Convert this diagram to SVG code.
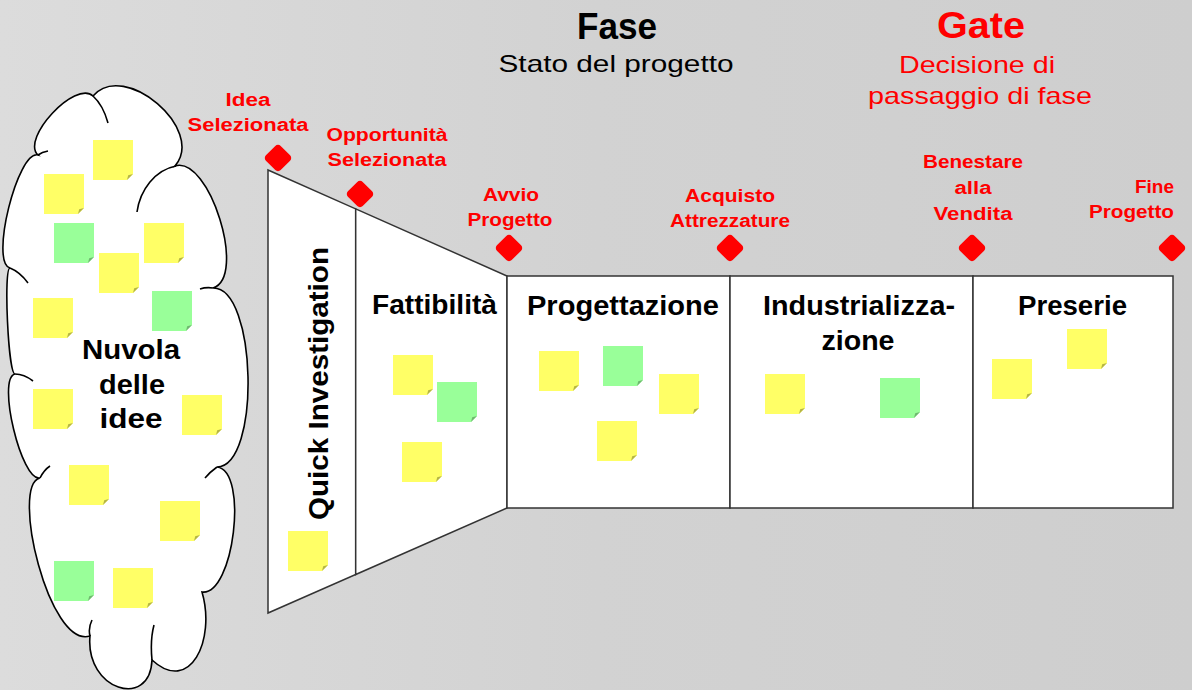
<svg xmlns="http://www.w3.org/2000/svg" xmlns:xlink="http://www.w3.org/1999/xlink" width="1192" height="690" viewBox="0 0 1192 690">
<style>
text{font-family:"Liberation Sans",Arial,sans-serif}
.gl{font-weight:bold;font-size:18px;fill:#ff0000;text-anchor:middle}
.ph{font-weight:bold;font-size:27px;fill:#000;text-anchor:middle}
.hb{font-weight:bold;font-size:36px;text-anchor:middle}
.hr{font-size:24px;text-anchor:middle}
.box{fill:#fff;stroke:#333;stroke-width:1.5}
.ln{fill:none;stroke:#333;stroke-width:1.5}
.cl{fill:#fff;stroke:#000;stroke-width:1.6}
.ct{fill:none;stroke:#000;stroke-width:1.6}
.dia{fill:#ff0000}
</style>
<defs>
<linearGradient id="bg" x1="0" y1="0" x2="1" y2="0">
<stop offset="0" stop-color="#dcdcdc"/>
<stop offset="0.5" stop-color="#d2d2d2"/>
<stop offset="1" stop-color="#cecece"/>
</linearGradient>
<symbol id="ny" viewBox="0 0 40 40" width="40" height="40">
<path d="M0 0H40V34L34 40H0Z" fill="#ffff66"/>
<path d="M40 34L34 40L35.2 35.2Z" fill="#b5b545"/>
</symbol>
<symbol id="ng" viewBox="0 0 40 40" width="40" height="40">
<path d="M0 0H40V34L34 40H0Z" fill="#99ff99"/>
<path d="M40 34L34 40L35.2 35.2Z" fill="#6fb86f"/>
</symbol>
<path id="dia" class="dia" d="M0,-13.2 Q1.6,-13.2 2.7,-12.1 L12.1,-2.7 Q13.2,-1.6 13.2,0 Q13.2,1.6 12.1,2.7 L2.7,12.1 Q1.6,13.2 0,13.2 Q-1.6,13.2 -2.7,12.1 L-12.1,2.7 Q-13.2,1.6 -13.2,0 Q-13.2,-1.6 -12.1,-2.7 L-2.7,-12.1 Q-1.6,-13.2 0,-13.2Z"/>
</defs>
<rect x="0" y="0" width="1192" height="690" fill="url(#bg)"/>

<g id="header">
<text class="hb" x="617" y="39" textLength="80" lengthAdjust="spacingAndGlyphs">Fase</text>
<text class="hr" x="616" y="72" textLength="235" lengthAdjust="spacingAndGlyphs">Stato del progetto</text>
<text class="hb" x="981" y="38" fill="#ff0000" textLength="88" lengthAdjust="spacingAndGlyphs">Gate</text>
<text class="hr" x="977" y="73" fill="#ff0000" textLength="156" lengthAdjust="spacingAndGlyphs">Decisione di</text>
<text class="hr" x="980" y="104" fill="#ff0000" textLength="224" lengthAdjust="spacingAndGlyphs">passaggio di fase</text>
</g>

<g id="cloud">
<path class="cl" d="M38,155 C20.5,138.6 75.5,79.6 93,96 C124.2,59.5 206.2,129.5 175,166 C209.4,155.3 247.4,277.3 213,288 C257,287 261,466 217,467 C248.8,470.8 233.8,595.8 202,592 C216,640 190,695 152,660 C150,710 85,690 90,636 C49,649 10,485 40,478 C21.5,482.4 -3.5,378.4 15,374 C8.3,374.3 3.3,268.3 10,268 C-10.4,262.9 17.6,149.9 38,155Z"/>
<path class="ct" d="M93,96 Q103,105 108,123 M137,212 C140,190 155,170 176,166 M200,289 Q206,287 213,288 M217,467 Q210,472 205,478 M152,660 Q150,640 154,625 M90,636 Q88,628 92,620 M40,478 Q44,470 50,466 M15,374 Q24,374 33,381 M10,268 Q20,272 28,283 M38,155 Q42,152 48,151"/>
<use href="#ny" x="93" y="140"/>
<use href="#ny" x="44" y="174"/>
<use href="#ng" x="54" y="223"/>
<use href="#ny" x="144" y="223"/>
<use href="#ny" x="99" y="253"/>
<use href="#ny" x="33" y="298"/>
<use href="#ng" x="152" y="291"/>
<use href="#ny" x="33" y="389"/>
<use href="#ny" x="182" y="395"/>
<use href="#ny" x="69" y="465"/>
<use href="#ny" x="160" y="501"/>
<use href="#ng" x="54" y="561"/>
<use href="#ny" x="113" y="568"/>
<text class="ph" x="131" y="359" textLength="98" lengthAdjust="spacingAndGlyphs">Nuvola</text>
<text class="ph" x="132" y="394" textLength="66" lengthAdjust="spacingAndGlyphs">delle</text>
<text class="ph" x="131" y="428" textLength="63" lengthAdjust="spacingAndGlyphs">idee</text>
</g>

<g id="phase-quick-investigation">
<path class="box" d="M268,170 L355.7,208.9 L355.7,574.5 L268,613Z"/>
<use href="#ny" x="288" y="531"/>
<text class="ph" font-size="28" transform="translate(328,383.5) rotate(-90)" textLength="273" lengthAdjust="spacingAndGlyphs">Quick Investigation</text>
</g>

<g id="phase-fattibilita">
<path class="box" d="M355.7,208.9 L507,276 L507,508 L355.7,574.5Z"/>
<use href="#ny" x="393" y="355"/>
<use href="#ng" x="437" y="382"/>
<use href="#ny" x="402" y="442"/>
<text class="ph" x="434.5" y="314" textLength="125" lengthAdjust="spacingAndGlyphs">Fattibilità</text>
</g>

<g id="phase-progettazione">
<rect class="box" x="507" y="276" width="223" height="232"/>
<use href="#ny" x="539" y="351"/>
<use href="#ng" x="603" y="346"/>
<use href="#ny" x="659" y="374"/>
<use href="#ny" x="597" y="421"/>
<text class="ph" x="623" y="315" textLength="192" lengthAdjust="spacingAndGlyphs">Progettazione</text>
</g>

<g id="phase-industrializzazione">
<rect class="box" x="730" y="276" width="243" height="232"/>
<use href="#ny" x="765" y="374"/>
<use href="#ng" x="880" y="378"/>
<text class="ph" x="859" y="315" textLength="192" lengthAdjust="spacingAndGlyphs">Industrializza-</text>
<text class="ph" x="858" y="350" textLength="73" lengthAdjust="spacingAndGlyphs">zione</text>
</g>

<g id="phase-preserie">
<rect class="box" x="973" y="276" width="200" height="232"/>
<use href="#ny" x="992" y="359"/>
<use href="#ny" x="1067" y="329"/>
<text class="ph" x="1072.5" y="315" textLength="109" lengthAdjust="spacingAndGlyphs">Preserie</text>
</g>

<g id="gate-idea">
<use href="#dia" x="278" y="158"/>
<text class="gl" x="248" y="106" textLength="45" lengthAdjust="spacingAndGlyphs">Idea</text>
<text class="gl" x="248" y="131" textLength="121" lengthAdjust="spacingAndGlyphs">Selezionata</text>
</g>
<g id="gate-opportunita">
<use href="#dia" x="360" y="194"/>
<text class="gl" x="387" y="141" textLength="121" lengthAdjust="spacingAndGlyphs">Opportunità</text>
<text class="gl" x="387" y="166" textLength="119" lengthAdjust="spacingAndGlyphs">Selezionata</text>
</g>
<g id="gate-avvio">
<use href="#dia" x="509" y="248"/>
<text class="gl" x="511" y="201" textLength="56" lengthAdjust="spacingAndGlyphs">Avvio</text>
<text class="gl" x="510" y="226" textLength="85" lengthAdjust="spacingAndGlyphs">Progetto</text>
</g>
<g id="gate-acquisto">
<use href="#dia" x="730" y="248"/>
<text class="gl" x="730" y="202" textLength="90" lengthAdjust="spacingAndGlyphs">Acquisto</text>
<text class="gl" x="730" y="227" textLength="120" lengthAdjust="spacingAndGlyphs">Attrezzature</text>
</g>
<g id="gate-benestare">
<use href="#dia" x="972" y="248"/>
<text class="gl" x="973" y="168" textLength="100" lengthAdjust="spacingAndGlyphs">Benestare</text>
<text class="gl" x="973" y="194" textLength="37" lengthAdjust="spacingAndGlyphs">alla</text>
<text class="gl" x="973" y="220" textLength="79" lengthAdjust="spacingAndGlyphs">Vendita</text>
</g>
<g id="gate-fine">
<use href="#dia" x="1172" y="248"/>
<text class="gl" x="1174" y="193" text-anchor="end" style="text-anchor:end" textLength="39" lengthAdjust="spacingAndGlyphs">Fine</text>
<text class="gl" x="1174" y="218" style="text-anchor:end" textLength="85" lengthAdjust="spacingAndGlyphs">Progetto</text>
</g>

<g id="connectors"></g>
</svg>
